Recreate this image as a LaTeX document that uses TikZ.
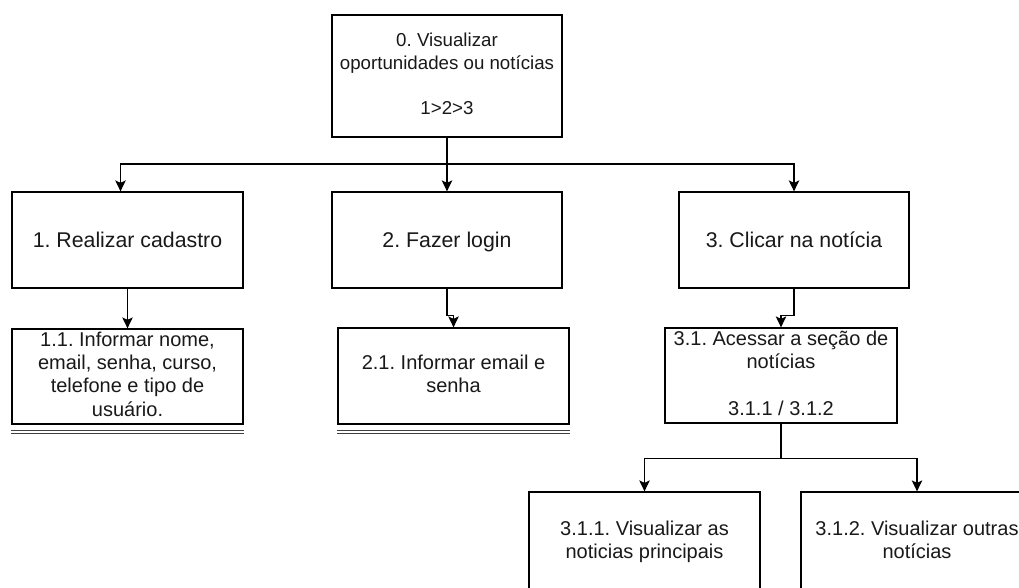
\documentclass[tikz,border=0pt]{standalone}
\usepackage{fontspec}
\setmainfont{Liberation Sans}
\usetikzlibrary{arrows.meta}
\frenchspacing

\tikzset{
  box/.style={draw=black, line width=1.3pt, rectangle, inner sep=0pt,
              align=center, text=black!90},
  big/.style={font=\fontsize{21.3}{25}\selectfont\frenchspacing,
              text height=17.7pt, text depth=2.3pt},
  mid/.style={font=\fontsize{20}{23.3}\selectfont\frenchspacing},
  top/.style={font=\fontsize{18.7}{22.5}\selectfont\frenchspacing},
  arr/.style={line width=1.3pt, -{Stealth[length=11pt,width=10.5pt,inset=2.5pt]}},
  link/.style={line width=1.3pt},
  rule/.style={line width=1pt, draw=black!75}
}

\begin{document}
\begin{tikzpicture}[x=1pt,y=-1pt]
  \clip (0,0) rectangle (1019,587);
  \fill[white] (0,0) rectangle (1019,587);

  % root
  \node[box, top, minimum width=230pt, minimum height=122pt] (b0) at (447,76)
    {\strut 0. Visualizar\\oportunidades ou notícias\\[22.5pt]1>2>3\strut};

  % first level
  \node[box, big, minimum width=231pt, minimum height=96pt] (b1) at (127.5,240) {1. Realizar cadastro};
  \node[box, big, minimum width=230pt, minimum height=96pt] (b2) at (447,240) {2. Fazer login};
  \node[box, big, minimum width=230pt, minimum height=96pt] (b3) at (794,240) {3. Clicar na notícia};

  % second level
  \node[box, mid, minimum width=231pt, minimum height=95pt] (b11) at (127.5,376.5)
    {\strut 1.1. Informar nome,\\email, senha, curso,\\telefone e tipo de\\usuário.\strut};
  \node[box, mid, minimum width=231pt, minimum height=96pt] (b21) at (453.5,376)
    {\strut 2.1. Informar email e\\senha\strut};
  \node[box, mid, minimum width=232pt, minimum height=95pt] (b31) at (781,375.5)
    {\strut 3.1. Acessar a seção de\\notícias\\[23.3pt]3.1.1 / 3.1.2\strut};

  % third level
  \node[box, mid, minimum width=231pt, minimum height=100pt] (b311) at (644.5,542)
    {\strut 3.1.1. Visualizar as\\noticias principais\strut};
  \node[box, mid, minimum width=232pt, minimum height=100pt] (b312) at (917,542)
    {\strut 3.1.2. Visualizar outras\\notícias\strut};

  % connectors
  \coordinate (bus) at (447,164);
  \draw[arr] (b0.south) -- (bus) -| ([xshift=-7pt]b1.north);
  \draw[arr] (b0.south) -- (b2.north);
  \draw[arr] (bus) -| (b3.north);

  \draw[arr] (b1.south) -- (b11.north);
  \draw[arr] (b2.south) -- ++(0,27) -| (b21.north);
  \draw[arr] (b3.south) -- ++(0,27) -| (b31.north);

  \coordinate (split) at ([yshift=-35pt]b31.south);
  \draw[link] (b31.south) -- (split);
  \draw[arr] (split) -| (b311.north);
  \draw[arr] (split) -| (b312.north);

  % double rules under the leaf steps
  \foreach \n in {b11,b21}{
    \draw[rule] ([yshift=-6pt]\n.south west) -- ([yshift=-6pt]\n.south east);
    \draw[rule] ([yshift=-9pt]\n.south west) -- ([yshift=-9pt]\n.south east);
  }
\end{tikzpicture}
\end{document}
